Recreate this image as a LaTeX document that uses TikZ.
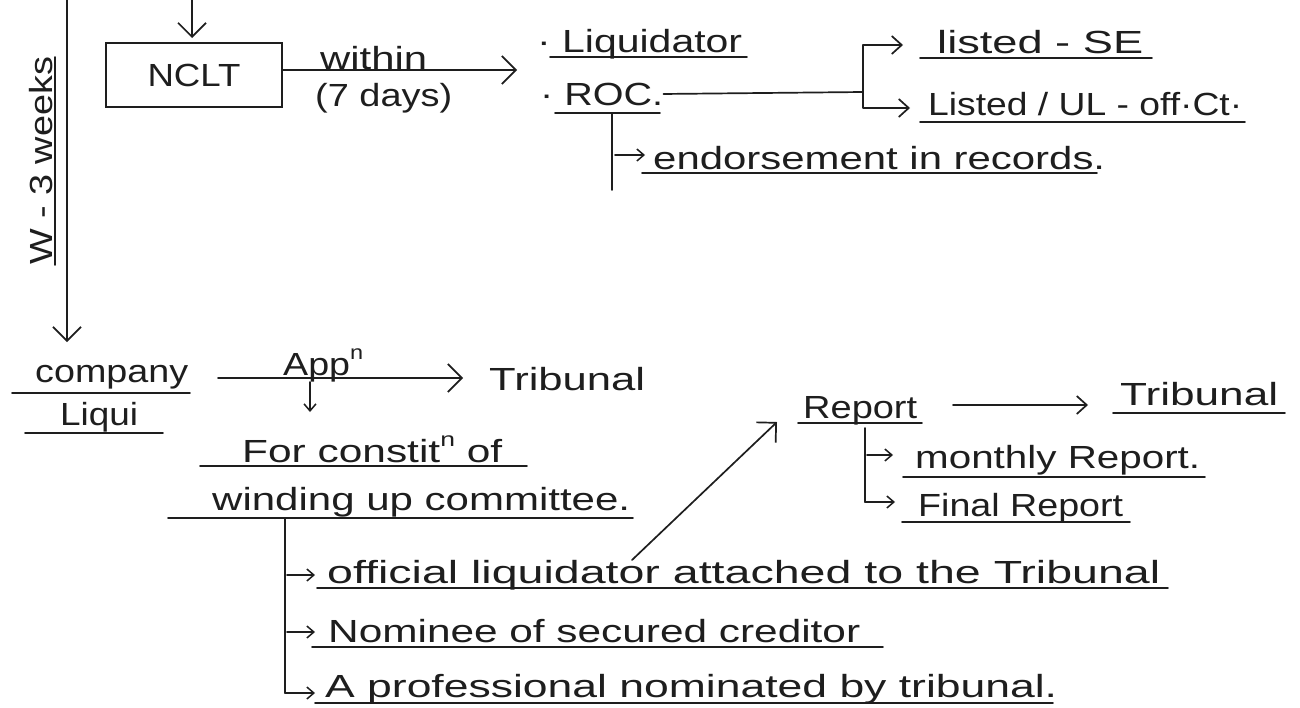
\documentclass[tikz,border=0pt]{standalone}
\usepackage{fontspec}
\setmainfont{Liberation Sans}
\usetikzlibrary{arrows.meta}
\definecolor{inkc}{HTML}{1E1E1E}
\newcommand{\tw}[2]{\resizebox{#1pt}{\height}{#2}}
\newcommand{\supn}{\raisebox{0.5em}{\fontsize{20}{20}\selectfont n}}
\newcommand{\hand}{\fontsize{32}{36}\selectfont}
\begin{document}
\begin{tikzpicture}[x=1pt,y=-1pt,
  ink/.style={draw=inkc, line width=1.7pt, line cap=round, line join=round},
  big/.style={ink, -{Straight Barb[length=14pt,width=28pt,line width=1.7pt]}},
  mid/.style={ink, -{Straight Barb[length=10pt,width=18pt,line width=1.7pt]}},
  small/.style={ink, -{Straight Barb[length=7pt,width=12pt,line width=1.5pt]}},
  uline/.style={draw=inkc, line width=1.6pt, line cap=round},
  txt/.style={inner sep=0pt, anchor=base west, font=\hand, text=inkc},
  boxn/.style={draw=inkc, line width=1.7pt, minimum width=176pt, minimum height=64pt, inner sep=0pt, font=\hand, text=inkc}]
\fill[white] (0,0) rectangle (1300,707);
\useasboundingbox (0,0) rectangle (1300,707);

% ---------- top part ----------
\node[boxn] (nclt) at (194,75) {\tw{93}{NCLT}};
\coordinate (topin) at (192,0);
\draw[big] (topin) -- (192,38);

\coordinate (vtop) at (67,0);
\coordinate (vbot) at (67,342);
\draw[big] (vtop) -- (vbot);

\node[txt, rotate=90] (weeks) at (52,265) {\tw{208}{W - 3 weeks}};
\draw[uline] (55,57) -- (55,265);

\node[txt] (within) at (320,69) {\tw{107}{within}};
\node[txt] (days) at (315,106) {\tw{137}{(7 days)}};
\coordinate (a1) at (517,70);
\draw[big] ([yshift=5pt]nclt.east) -- (a1);

\node[txt] (liq) at (537,52) {\tw{205}{· Liquidator}};
\draw[uline] (550,57) -- (747,57);
\node[txt] (roc) at (540,105) {\tw{123}{· ROC.}};
\draw[uline] (555,113) -- (660,113);

\coordinate (br) at (863,92);
\draw[ink] (roc.east) -- (br);
\draw[ink, {Straight Barb[length=10pt,width=18pt,line width=1.7pt]}-{Straight Barb[length=10pt,width=18pt,line width=1.7pt]}]
  (903,45) -- (863,45) -- (863,108) -- (910,108);

\node[txt] (se) at (937,53) {\tw{206}{listed - SE}};
\draw[uline] (920,58) -- (1152,58);
\node[txt] (ul) at (928,115) {\tw{314}{Listed / UL - off·Ct·}};
\draw[uline] (920,122) -- (1245,122);

\draw[ink] (612,113) -- (612,190);
\draw[small] (615,155) -- (645,155);
\node[txt] (endo) at (653,169) {\tw{452}{endorsement in records.}};
\draw[uline] (642,173) -- (1097,173);

% ---------- bottom part ----------
\node[txt] (company) at (35,382) {\tw{153}{company}};
\draw[uline] (12,393) -- (190,393);
\node[txt] (liqui) at (60,425) {\tw{78}{Liqui}};
\draw[uline] (25,433) -- (163,433);

\coordinate (a2s) at (218,378);
\coordinate (a2e) at (463,378);
\draw[big] (a2s) -- (a2e);
\node[txt] (appn) at (283,375) {\tw{80}{App\supn}};
\draw[small] (310,382) -- (310,412);
\node[txt] (trib1) at (489,390) {\tw{156}{Tribunal}};

\node[txt] (forc) at (242,462) {\tw{260}{For constit\supn{} of}};
\draw[uline] (200,466) -- (527,466);
\node[txt] (wind) at (212,510) {\tw{418}{winding up committee.}};
\draw[uline] (168,518) -- (633,518);

\draw[ink] (285,518) -- (285,693);
\draw[small] (285,693) -- (315,693);
\draw[small] (287,575) -- (315,575);
\draw[small] (287,632) -- (315,632);

\node[txt] (off) at (327,583) {\tw{833}{official liquidator attached to the Tribunal}};
\draw[uline] (317,588) -- (1168,588);
\node[txt] (nom) at (328,642) {\tw{532}{Nominee of secured creditor}};
\draw[uline] (312,647) -- (883,647);
\node[txt] (prof) at (325,697) {\tw{732}{A professional nominated by tribunal.}};
\draw[uline] (315,703) -- (1053,703);

\coordinate (dg1) at (632,560);
\coordinate (dg2) at (777,422);
\draw[big] (dg1) -- (dg2);

\node[txt] (rep) at (803,418) {\tw{114}{Report}};
\draw[uline] (798,423) -- (922,423);
\coordinate (a3s) at (953,405);
\coordinate (a3e) at (1088,405);
\draw[mid] (a3s) -- (a3e);
\node[txt] (trib2) at (1120,405) {\tw{158}{Tribunal}};
\draw[uline] (1113,413) -- (1285,413);

\draw[ink] (865,428) -- (865,502);
\draw[small] (865,502) -- (895,502);
\draw[small] (867,455) -- (893,455);
\node[txt] (month) at (915,468) {\tw{285}{monthly Report.}};
\draw[uline] (903,477) -- (1205,477);
\node[txt] (final) at (918,516) {\tw{205}{Final Report}};
\draw[uline] (902,522) -- (1130,522);
\end{tikzpicture}
\end{document}
